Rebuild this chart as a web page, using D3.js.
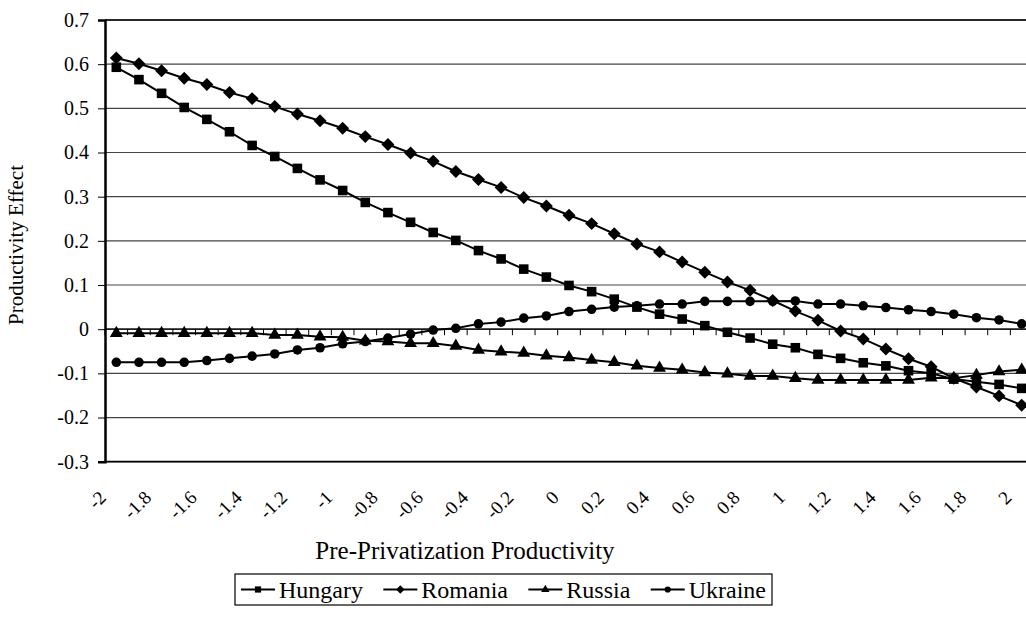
<!DOCTYPE html>
<html>
<head>
<meta charset="utf-8">
<script src="https://cdn.jsdelivr.net/npm/d3@7"></script>
<style>
  body { margin: 0; background: #fff; }
  svg { display: block; }
  svg text { font-family: "Liberation Serif", "Times New Roman", "DejaVu Serif", serif; fill: #000; }
</style>
</head>
<body>
<svg id="chart" width="1026" height="630"></svg>
<script>
// x categories (pre-privatization productivity)
const categories = [-2, -1.9, -1.8, -1.7, -1.6, -1.5, -1.4, -1.3, -1.2, -1.1, -1, -0.9, -0.8, -0.7, -0.6, -0.5, -0.4, -0.3, -0.2, -0.1,
  0, 0.1, 0.2, 0.3, 0.4, 0.5, 0.6, 0.7, 0.8, 0.9, 1, 1.1, 1.2, 1.3, 1.4, 1.5, 1.6, 1.7, 1.8, 1.9, 2];

const hungary = [0.593, 0.565, 0.534, 0.502, 0.475, 0.447, 0.416, 0.391, 0.364, 0.338, 0.314, 0.287, 0.264, 0.242, 0.219, 0.201,
  0.178, 0.159, 0.136, 0.118, 0.099, 0.085, 0.068, 0.050, 0.034, 0.023, 0.008, -0.007, -0.020, -0.034, -0.042, -0.057, -0.066,
  -0.076, -0.083, -0.094, -0.100, -0.113, -0.119, -0.125, -0.134];
const romania = [0.614, 0.601, 0.585, 0.568, 0.554, 0.536, 0.522, 0.504, 0.487, 0.472, 0.455, 0.436, 0.418, 0.399, 0.380, 0.357,
  0.339, 0.321, 0.298, 0.279, 0.258, 0.239, 0.216, 0.193, 0.175, 0.152, 0.129, 0.107, 0.088, 0.065, 0.041, 0.020, -0.004,
  -0.022, -0.045, -0.067, -0.085, -0.111, -0.131, -0.151, -0.172];
const russia = [-0.009, -0.009, -0.009, -0.009, -0.009, -0.009, -0.009, -0.013, -0.013, -0.017, -0.018, -0.026, -0.028, -0.032,
  -0.032, -0.038, -0.047, -0.051, -0.054, -0.060, -0.064, -0.070, -0.075, -0.083, -0.088, -0.092, -0.098, -0.101, -0.106,
  -0.106, -0.111, -0.115, -0.115, -0.115, -0.115, -0.115, -0.110, -0.111, -0.104, -0.096, -0.092];
const ukraine = [-0.075, -0.075, -0.075, -0.075, -0.071, -0.066, -0.061, -0.056, -0.047, -0.042, -0.033, -0.028, -0.020, -0.011,
  -0.002, 0.002, 0.012, 0.016, 0.025, 0.030, 0.040, 0.045, 0.050, 0.053, 0.057, 0.057, 0.063, 0.063, 0.063, 0.063, 0.064,
  0.057, 0.057, 0.053, 0.049, 0.044, 0.040, 0.034, 0.026, 0.021, 0.012];

const yTicks = [-0.3, -0.2, -0.1, 0, 0.1, 0.2, 0.3, 0.4, 0.5, 0.6, 0.7];
// every second category gets a label
const xLabels = [-2, -1.8, -1.6, -1.4, -1.2, -1, -0.8, -0.6, -0.4, -0.2, 0, 0.2, 0.4, 0.6, 0.8, 1, 1.2, 1.4, 1.6, 1.8, 2];

// diamond as a square turned 45 degrees (d3's own diamond is too narrow)
const rotatedSquare = {
  draw(context, size) {
    const r = Math.sqrt(size / 2);
    context.moveTo(0, -r);
    context.lineTo(r, 0);
    context.lineTo(0, r);
    context.lineTo(-r, 0);
    context.closePath();
  },
};

const series = [
  { name: 'Hungary', values: hungary, symbol: d3.symbolSquare, size: 92 },
  { name: 'Romania', values: romania, symbol: rotatedSquare, size: 84 },
  { name: 'Russia', values: russia, symbol: d3.symbolTriangle, size: 72 },
  { name: 'Ukraine', values: ukraine, symbol: d3.symbolCircle, size: 72 },
];

const svg = d3.select('#chart');
const plotLeft = 105, plotRight = 1033, plotTop = 20, plotBottom = 461.7;

svg.append('rect').attr('width', 1026).attr('height', 630).attr('fill', '#fff');

const x = d3.scalePoint().domain(categories).range([plotLeft, plotRight]).padding(0.5);
const y = d3.scaleLinear().domain([-0.3, 0.7]).range([plotBottom, plotTop]);
const fmt = (v) => (v === 0 ? '0' : d3.format('.1f')(v).replace('\u2212', '-'));

// horizontal gridlines
svg.append('g')
  .selectAll('line')
  .data(yTicks)
  .enter()
  .append('line')
  .attr('x1', plotLeft)
  .attr('x2', plotRight)
  .attr('y1', (d) => y(d))
  .attr('y2', (d) => y(d))
  .attr('stroke', '#444')
  .attr('stroke-width', 1.2);

// top and bottom border of the plot area
svg.append('line').attr('x1', plotLeft).attr('x2', plotRight).attr('y1', plotTop).attr('y2', plotTop)
  .attr('stroke', '#000').attr('stroke-width', 1.6);
svg.append('line').attr('x1', plotLeft).attr('x2', plotRight).attr('y1', plotBottom).attr('y2', plotBottom)
  .attr('stroke', '#000').attr('stroke-width', 1.8);

// y axis
const yAxis = svg.append('g')
  .attr('transform', `translate(${plotLeft},0)`)
  .call(d3.axisLeft(y).tickValues(yTicks).tickFormat(fmt).tickSize(7).tickPadding(9));
yAxis.attr('font-family', null).attr('font-size', 20);
yAxis.select('.domain').attr('stroke', '#000').attr('stroke-width', 2.5);
yAxis.selectAll('.tick line').attr('stroke', '#000');

// category axis sits on the zero line, ticks between categories
const step = x.step();
const boundaries = categories.map((c) => x(c) - step / 2).concat([x(categories[categories.length - 1]) + step / 2]);
svg.append('line').attr('x1', plotLeft).attr('x2', plotRight).attr('y1', y(0)).attr('y2', y(0))
  .attr('stroke', '#000').attr('stroke-width', 1.2);
svg.append('g')
  .selectAll('line')
  .data(boundaries)
  .enter()
  .append('line')
  .attr('x1', (d) => d)
  .attr('x2', (d) => d)
  .attr('y1', y(0))
  .attr('y2', y(0) + 6)
  .attr('stroke', '#000')
  .attr('stroke-width', 1);

// rotated category labels below the plot
svg.append('g')
  .selectAll('text')
  .data(xLabels)
  .enter()
  .append('text')
  .attr('transform', (d) => `translate(${x(d) - 9},${plotBottom + 37}) rotate(-45)`)
  .attr('text-anchor', 'end')
  .attr('font-size', 19)
  .text((d) => String(d));

// lines and markers
const line = d3.line()
  .x((d, i) => x(categories[i]))
  .y((d) => y(d));

series.forEach((s) => {
  svg.append('path')
    .attr('d', line(s.values))
    .attr('fill', 'none')
    .attr('stroke', '#000')
    .attr('stroke-width', 2);
  svg.append('g')
    .selectAll('path')
    .data(s.values)
    .enter()
    .append('path')
    .attr('transform', (d, i) => `translate(${x(categories[i])},${y(d)})`)
    .attr('d', d3.symbol().type(s.symbol).size(s.size))
    .attr('fill', '#000');
});

// axis titles
svg.append('text')
  .attr('x', 465)
  .attr('y', 559)
  .attr('text-anchor', 'middle')
  .attr('font-size', 25)
  .text('Pre-Privatization Productivity');

svg.append('text')
  .attr('transform', `translate(23,245) rotate(-90)`)
  .attr('text-anchor', 'middle')
  .attr('font-size', 21)
  .text('Productivity Effect');

// legend: the four entries are spread over the box width
const boxX = 235, boxW = 537, boxY = 574, boxH = 31;
const lgY = boxY + boxH / 2;
const symW = 34;
const legend = svg.append('g');
legend.append('rect')
  .attr('x', boxX)
  .attr('y', boxY)
  .attr('width', boxW)
  .attr('height', boxH)
  .attr('fill', '#fff')
  .attr('stroke', '#000')
  .attr('stroke-width', 1.2);
const labels = series.map((s) => legend.append('text')
  .attr('y', lgY + 8)
  .attr('font-size', 24)
  .text(s.name));
const widths = labels.map((t) => t.node().getComputedTextLength());
const used = d3.sum(widths) + series.length * (symW + 4);
const gap = (boxW - 12 - used) / (series.length - 1);
let lx = boxX + 6;
series.forEach((s, i) => {
  legend.append('line').attr('x1', lx).attr('x2', lx + symW).attr('y1', lgY).attr('y2', lgY)
    .attr('stroke', '#000').attr('stroke-width', 2);
  legend.append('path')
    .attr('transform', `translate(${lx + symW / 2},${lgY})`)
    .attr('d', d3.symbol().type(s.symbol).size(s.size * 0.42))
    .attr('fill', '#000');
  labels[i].attr('x', lx + symW + 4);
  lx += symW + 4 + widths[i] + gap;
});
</script>
</body>
</html>
